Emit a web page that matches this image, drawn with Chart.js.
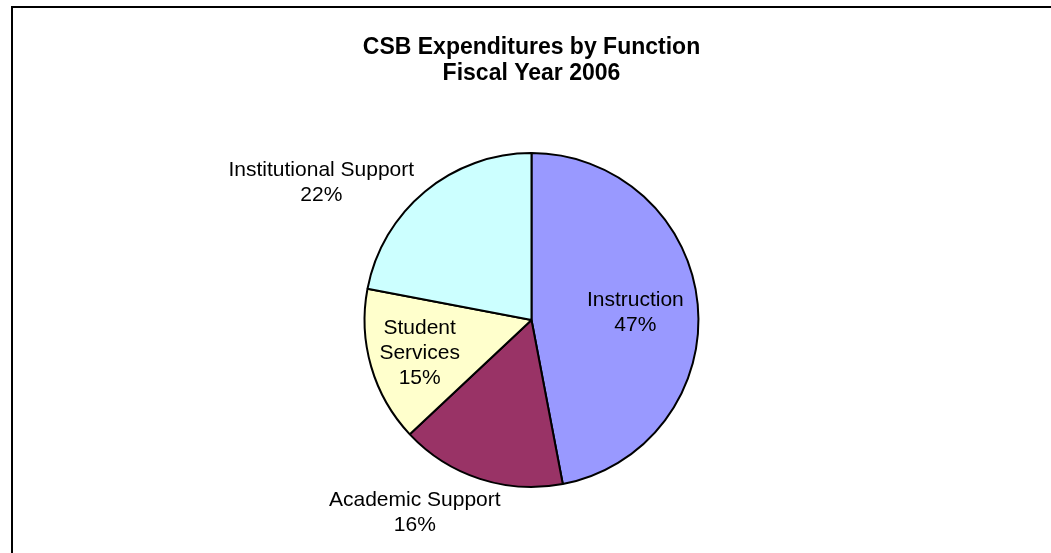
<!DOCTYPE html>
<html>
<head>
<meta charset="utf-8">
<script src="https://cdn.jsdelivr.net/npm/chart.js@4"></script>
<style>
    html, body { margin: 0; padding: 0; background: #fff; overflow: hidden; }
    #marco { position: absolute; left: 11px; top: 6px; width: 2000px; height: 2000px; border: 2px solid #000; }
    #lienzo { position: absolute; left: 0; top: 0; }
</style>
</head>
<body>
<div id="marco"></div>
<canvas id="lienzo" width="1051" height="553"></canvas>
<script>
// datos
const categorias = ["Instruction", "Academic Support", "Student Services", "Institutional Support"];
const porcentajes = [47, 16, 15, 22];
const colores = ["#9999FF", "#993366", "#FFFFCC", "#CCFFFF"];
const titulo = ["CSB Expenditures by Function", "Fiscal Year 2006"];

// donde va cada etiqueta, en radios desde el centro
const posEtiquetas = [[0.622, -0.042], [-0.699, 1.155], [-0.670, 0.196], [-1.259, -0.821]];
const partirNombre = [false, false, true, false];

const fuente = "'Liberation Sans', Arial, sans-serif";

const etiquetasPlugin = {
    id: "etiquetas",
    afterDatasetsDraw(chart) {
        const ctx = chart.ctx;
        const arcos = chart.getDatasetMeta(0).data;
        ctx.save();
        ctx.font = "21px " + fuente;
        ctx.fillStyle = "#000";
        ctx.textAlign = "center";
        ctx.textBaseline = "middle";
        arcos.forEach((arco, i) => {
            const r = arco.outerRadius;
            const x = arco.x + posEtiquetas[i][0] * r;
            const y = arco.y + posEtiquetas[i][1] * r;
            const lineas = partirNombre[i] ? categorias[i].split(" ") : [categorias[i]];
            lineas.push(porcentajes[i] + "%");
            const alto = 25;
            const y0 = y - ((lineas.length - 1) * alto) / 2;
            lineas.forEach((t, k) => ctx.fillText(t, x, y0 + k * alto));
        });
        ctx.restore();
    },
};

new Chart(document.getElementById("lienzo"), {
    type: "pie",
    data: {
        labels: categorias,
        datasets: [
            {
                data: porcentajes,
                backgroundColor: colores,
                borderColor: "#000",
                borderWidth: 2,
            },
        ],
    },
    options: {
        responsive: false,
        animation: false,
        layout: { padding: { top: 0, left: 12, right: 0, bottom: 65 } },
        plugins: {
            legend: { display: false },
            tooltip: { enabled: false },
            title: {
                display: true,
                text: titulo,
                color: "#000",
                font: { family: fuente, size: 23, weight: "bold", lineHeight: 1.1 },
                padding: { top: 35.5, bottom: 66 },
            },
        },
    },
    plugins: [etiquetasPlugin],
});
</script>
</body>
</html>
